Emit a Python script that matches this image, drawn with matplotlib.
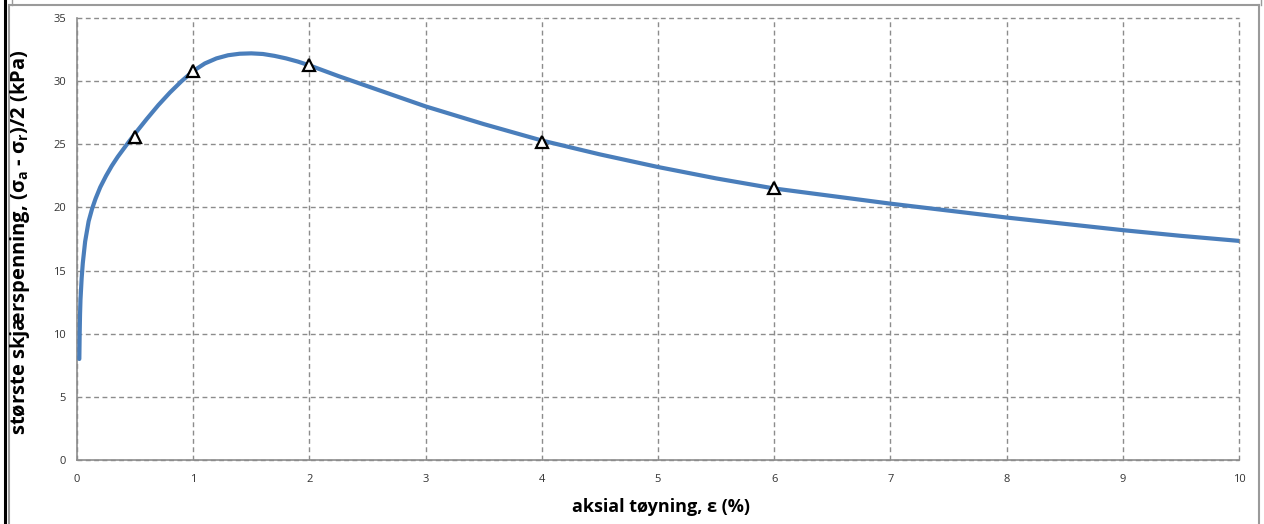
import matplotlib
matplotlib.use("Agg")
import matplotlib.pyplot as plt
from matplotlib.lines import Line2D

# Axial strain (%) and maximum shear stress (kPa) along the measured curve
strain = [0.02, 0.023, 0.026, 0.03, 0.04, 0.05, 0.07, 0.1, 0.13, 0.16, 0.2, 0.25,
          0.3, 0.35, 0.43, 0.5, 0.6, 0.7, 0.8, 0.9, 1.0, 1.1, 1.2, 1.3, 1.4, 1.5,
          1.6, 1.7, 1.8, 1.9, 2.0, 2.25, 2.5, 2.75, 3.0, 3.5, 4.0, 4.5, 5.0,
          5.5, 6.0, 6.5, 7.0, 7.5, 8.0, 8.5, 9.0, 9.5, 10.0]
stress = [8.0, 10.0, 11.5, 12.7, 14.4, 15.6, 17.3, 18.9, 19.9, 20.7, 21.6, 22.5,
          23.3, 24.0, 25.0, 25.85, 27.0, 28.1, 29.1, 30.0, 30.8, 31.4, 31.8, 32.05, 32.17, 32.2,
          32.15, 32.0, 31.8, 31.55, 31.25, 30.4, 29.6, 28.8, 28.0, 26.6, 25.3, 24.2, 23.2,
          22.3, 21.5, 20.9, 20.3, 19.75, 19.2, 18.7, 18.2, 17.75, 17.35]

# Individual test points
point_strain = [0.5, 1, 2, 4, 6]
point_stress = [25.6, 30.8, 31.3, 25.2, 21.5]

x_ticks = list(range(0, 11))
y_ticks = list(range(0, 36, 5))

W, H = 1264, 524
fig = plt.figure(figsize=(W / 100, H / 100), dpi=100)
ax = fig.add_axes([77 / W, 1 - 460 / H, (1239 - 77) / W, (460 - 18) / H])

ax.plot(strain, stress, color="#4a7ebb", lw=3.0, solid_capstyle="round",
        solid_joinstyle="round", zorder=3)
ax.plot(point_strain, point_stress, linestyle="none", marker="^", markersize=9,
        markerfacecolor="white", markeredgecolor="black", markeredgewidth=1.6, zorder=4)

ax.set_xlim(0, 10)
ax.set_ylim(0, 35)
ax.set_xticks(x_ticks)
ax.set_yticks(y_ticks)
ax.tick_params(length=0, labelsize=8, labelcolor="#333333")
ax.tick_params(axis="x", pad=10)
ax.tick_params(axis="y", pad=8)
for lab in ax.get_xticklabels() + ax.get_yticklabels():
    lab.set_family("Open Sans")

ax.grid(True, color="#8c8c8c", linestyle=(0, (3.5, 2.5)), linewidth=1.0)
for gl in ax.get_xgridlines() + ax.get_ygridlines():
    gl.set_clip_on(False)
ax.set_axisbelow(True)
for side in ("top", "right"):
    ax.spines[side].set_visible(False)
for side in ("left", "bottom"):
    ax.spines[side].set_color("#8c8c8c")
    ax.spines[side].set_linewidth(1.2)
    ax.spines[side].set_zorder(2.5)

fig.text(661 / W, 1 - 507 / H, "aksial tøyning, ε (%)", ha="center", va="center",
         fontsize=13, fontweight="bold", family="Open Sans")
fig.text(20 / W, 1 - 242 / H,
         r"største skjærspenning, (σ$_\mathregular{a}$ - σ$_\mathregular{r}$)/2 (kPa)",
         ha="center", va="center", rotation=90, fontsize=14.5, fontweight="bold",
         family="Open Sans")

# Outer chart frame
frame_grey = "#9a9a9a"
fig.add_artist(Line2D([5 / W, 5 / W], [0, 1], color="black", lw=2.2))
fig.add_artist(Line2D([8.5 / W, 8.5 / W], [0, 1 - 4.5 / H], color=frame_grey, lw=1.5))
fig.add_artist(Line2D([8.5 / W, 1258.5 / W], [1 - 4.5 / H, 1 - 4.5 / H], color=frame_grey, lw=1.5))
fig.add_artist(Line2D([1258.5 / W, 1258.5 / W], [0, 1 - 4.5 / H], color=frame_grey, lw=1.5))
fig.add_artist(Line2D([11.5 / W, 11.5 / W], [1 - 4.5 / H, 1], color=frame_grey, lw=1.0))
fig.add_artist(Line2D([1260.5 / W, 1260.5 / W], [1 - 4.5 / H, 1], color=frame_grey, lw=1.0))

fig.savefig("out.png", dpi=100)
